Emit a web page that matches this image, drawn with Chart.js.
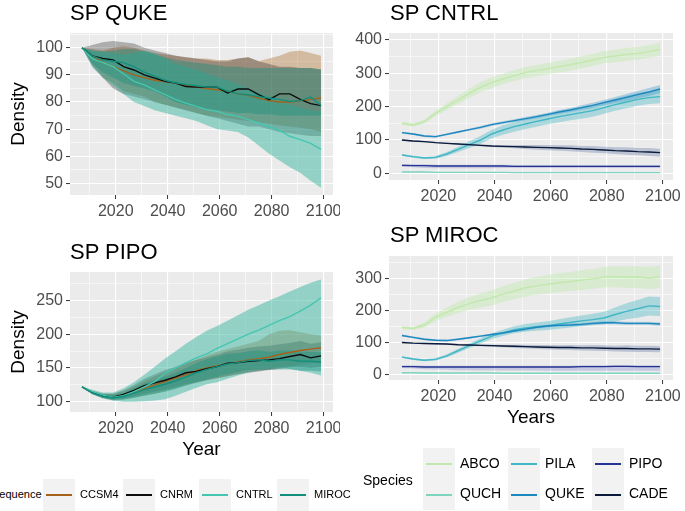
<!DOCTYPE html>
<html>
<head>
<meta charset="utf-8">
<script src="https://cdn.jsdelivr.net/npm/chart.js@4.4.1/dist/chart.umd.min.js"></script>
<style>
  body { margin: 0; background: #fff; }
  #wrap { position: relative; width: 685px; height: 511px; overflow: hidden; font-family: "Liberation Sans", Arial, sans-serif; }
  canvas { position: absolute; }
  .ttl { position: absolute; font-size: 22px; line-height: 26px; color: #000; white-space: nowrap; z-index: 2; }
  .lg { position: absolute; white-space: nowrap; color: #000; z-index: 2; }
  .key { position: absolute; background: #f2f2f2; z-index: 1; }
  .key i { position: absolute; left: 3px; right: 3px; top: 50%; height: 2px; margin-top: -1px; }
</style>
</head>
<body>
<div id="wrap">
  <canvas id="cQuke" width="340" height="225" style="left:0;top:0"></canvas>
  <canvas id="cCntrl" width="345" height="225" style="left:340px;top:0"></canvas>
  <canvas id="cPipo" width="340" height="240" style="left:0;top:225px"></canvas>
  <canvas id="cMiroc" width="345" height="210" style="left:340px;top:225px"></canvas>

  <div class="ttl" style="left:70px;top:0">SP QUKE</div>
  <div class="ttl" style="left:390px;top:0">SP CNTRL</div>
  <div class="ttl" style="left:70px;top:239px">SP PIPO</div>
  <div class="ttl" style="left:390px;top:222px">SP MIROC</div>
</div>

<script>
// ---------------- Data ----------------
const years = [2007, 2011, 2015, 2019, 2023, 2027, 2031, 2035, 2039, 2043, 2047, 2051,
               2055, 2059, 2063, 2067, 2071, 2075, 2079, 2083, 2087, 2091, 2095, 2099];

// SP QUKE panel (by climate sequence)
const qukeCcsm4   = [100, 97, 94.5, 93, 91.5, 90, 89, 88, 87.5, 87, 86, 85.5, 85, 84.5, 84, 83, 82.5, 81.5, 80.5, 80, 80, 80.5, 81, 81.5];
const qukeCcsm4Lo = [100, 94, 89, 87, 84, 83, 82, 80, 79, 78, 77, 76, 75, 74.5, 74, 73.5, 73, 72.5, 72, 71.5, 71, 70.5, 70, 69];
const qukeCcsm4Hi = [100, 99.5, 99, 100, 100.5, 100, 99, 98, 97.5, 97, 96.5, 96, 96, 95.5, 95.5, 96, 96.5, 95, 96, 97, 98.5, 99, 98, 97];
const qukeCnrm    = [100, 97, 96, 95.5, 93, 91.8, 90, 88.8, 87.6, 87, 85.7, 85.5, 85.5, 85.5, 83.3, 84.8, 84.8, 82.7, 80.9, 83, 83, 81, 79.4, 78.7];
const qukeCnrmLo  = [100, 93, 89, 85, 83, 82, 81, 80, 79, 78, 77, 76, 75, 74, 73, 72, 71, 71, 70, 69, 68.5, 68, 67.5, 67.5];
const qukeCnrmHi  = [100, 101, 102, 102.5, 102, 101.5, 100, 99, 98, 97, 96.5, 96, 95.5, 95, 95, 96, 96.5, 95, 94, 93, 93, 92.5, 92.5, 92];
const qukeCntrl   = [100, 96, 94.5, 93, 90.4, 87.6, 86.3, 84.5, 82.7, 81, 79.6, 78.4, 77.2, 76.6, 75.4, 74.8, 73.5, 72.3, 71, 69.6, 67.4, 66.2, 64.8, 62.6];
const qukeCntrlLo = [100, 93, 89, 86, 83, 80, 78.5, 77, 76, 75, 74, 73, 71.5, 70, 69.5, 69, 67, 64, 61, 58.5, 56, 54, 51, 48.5];
const qukeCntrlHi = [100, 99, 98.5, 98, 97.5, 98, 99, 98, 96, 94, 93, 92, 90.5, 89, 88, 86.5, 85, 83.5, 82, 80.5, 79, 78, 77, 76.5];
const qukeMiroc   = [100, 97, 95.5, 95, 94.5, 93, 91, 89.5, 88, 87, 86.5, 86, 85.5, 85.5, 84, 83, 82.7, 82, 81.5, 81, 80.2, 80.5, 81.8, 78.7];
const qukeMirocLo = [100, 94, 91, 89, 87, 86, 85, 84, 82, 80, 79, 78, 77.5, 77, 76.5, 76, 76, 75.5, 75.5, 75, 75, 75, 75, 75];
const qukeMirocHi = [100, 99, 98.5, 99, 99.5, 99.5, 98.5, 97.5, 96.5, 95.5, 95, 94.5, 94, 93.5, 93, 93, 92.5, 92.5, 92.5, 92.5, 92.5, 92.5, 92.5, 92];

// SP PIPO panel (by climate sequence)
const pipoCcsm4   = [122, 114, 109, 107, 110, 115, 120, 125, 130, 135, 140, 146, 150, 153, 156, 159, 162, 164, 166, 170, 173, 176, 178, 180];
const pipoCcsm4Lo = [122, 112, 106, 103, 104, 106, 109, 112, 116, 120, 124, 128, 132, 135, 138, 141, 144, 146, 148, 151, 153, 155, 157, 158];
const pipoCcsm4Hi = [122, 116, 112, 112, 116, 123, 131, 138, 144, 150, 156, 163, 169, 174, 178, 182, 186, 190, 200, 205, 206, 203, 200, 198];
const pipoCnrm    = [122, 114, 109, 107, 111, 117, 124, 128, 132, 137, 143, 145, 149, 152, 157, 158, 160, 161, 162, 164, 167, 170, 165, 168];
const pipoCnrmLo  = [122, 112, 106, 103, 105, 108, 112, 115, 118, 122, 126, 129, 132, 135, 138, 141, 143, 145, 147, 149, 151, 152, 150, 152];
const pipoCnrmHi  = [122, 116, 112, 112, 117, 125, 134, 141, 147, 152, 158, 162, 166, 170, 175, 177, 180, 182, 183, 185, 187, 190, 186, 188];
const pipoCntrl   = [122, 115, 110, 107, 109, 115, 122, 130, 142, 150, 158, 165, 171, 179, 186, 193, 200, 206, 213, 220, 226, 234, 243, 254];
const pipoCntrlLo = [122, 112, 106, 102, 100, 100, 101, 102, 104, 109, 115, 121, 126, 129, 134, 139, 143, 146, 149, 150, 149, 146, 143, 139];
const pipoCntrlHi = [122, 118, 114, 114, 120, 129, 140, 152, 164, 175, 186, 196, 205, 212, 220, 228, 236, 243, 250, 256, 263, 270, 276, 281];
const pipoMiroc   = [122, 113, 108, 106, 108, 113, 118, 122, 126, 131, 137, 143, 148, 152, 156, 158, 161, 162, 160, 162, 162, 160, 160, 159];
const pipoMirocLo = [122, 111, 105, 102, 103, 106, 109, 112, 115, 119, 124, 129, 133, 137, 141, 144, 147, 148, 147, 148, 148, 146, 146, 145];
const pipoMirocHi = [122, 115, 111, 110, 113, 120, 127, 132, 137, 143, 150, 157, 163, 167, 171, 172, 175, 176, 174, 176, 176, 174, 174, 173];

// SP CNTRL panel (by species)
const cntrlAbco   = [150, 145, 155, 180, 200, 220, 240, 258, 272, 283, 293, 302, 308, 314, 320, 326, 333, 340, 348, 352, 357, 360, 365, 372];
const cntrlAbcoLo = [145, 140, 149, 172, 190, 208, 226, 243, 256, 267, 277, 285, 291, 297, 303, 308, 315, 322, 330, 333, 338, 341, 346, 352];
const cntrlAbcoHi = [155, 150, 161, 188, 210, 232, 254, 273, 288, 299, 309, 319, 325, 331, 337, 344, 351, 358, 366, 371, 376, 379, 384, 392];
const cntrlQuch   = [4, 4, 4, 3, 3, 3, 3, 3, 3, 3, 2, 2, 2, 2, 2, 2, 2, 2, 2, 2, 2, 2, 2, 2];
const cntrlQuchLo = [3, 3, 3, 2, 2, 2, 2, 2, 2, 2, 1, 1, 1, 1, 1, 1, 1, 1, 1, 1, 1, 1, 1, 1];
const cntrlQuchHi = [5, 5, 5, 4, 4, 4, 4, 4, 4, 4, 3, 3, 3, 3, 3, 3, 3, 3, 3, 3, 3, 3, 3, 3];
const cntrlPila   = [55, 50, 46, 48, 58, 72, 86, 100, 118, 130, 140, 148, 156, 163, 170, 176, 182, 188, 197, 206, 214, 222, 227, 230];
const cntrlPilaLo = [52, 47, 43, 44, 52, 64, 76, 88, 105, 116, 125, 133, 140, 147, 153, 159, 164, 170, 179, 188, 195, 203, 208, 210];
const cntrlPilaHi = [58, 53, 49, 52, 64, 80, 96, 112, 131, 144, 155, 163, 172, 179, 187, 193, 200, 206, 215, 224, 233, 241, 246, 250];
const cntrlQuke   = [122, 118, 112, 110, 117, 124, 131, 138, 146, 152, 158, 164, 170, 177, 184, 190, 197, 204, 212, 220, 228, 236, 244, 253];
const cntrlQukeLo = [119, 115, 109, 107, 114, 121, 128, 134, 142, 148, 154, 159, 165, 172, 178, 184, 190, 196, 204, 211, 218, 225, 232, 241];
const cntrlQukeHi = [125, 121, 115, 113, 120, 127, 134, 142, 150, 156, 162, 169, 175, 182, 190, 196, 204, 212, 220, 229, 238, 247, 256, 265];
const cntrlPipo   = [24, 23, 23, 22, 22, 22, 22, 22, 22, 22, 21, 21, 21, 21, 21, 21, 21, 21, 21, 21, 21, 21, 21, 21];
const cntrlPipoLo = [20, 18, 16, 15, 15, 15, 15, 15, 15, 16, 16, 16, 16, 16, 16, 16, 16, 16, 16, 16, 16, 16, 16, 16];
const cntrlPipoHi = [28, 27, 27, 26, 26, 26, 26, 26, 26, 26, 25, 25, 25, 25, 25, 25, 25, 25, 25, 25, 25, 25, 25, 25];
const cntrlCade   = [100, 97, 95, 92, 90, 88, 86, 84, 82, 81, 80, 79, 78, 77, 76, 75, 73, 72, 70, 68, 67, 65, 64, 62];
const cntrlCadeLo = [98, 95, 93, 90, 88, 86, 83, 81, 79, 77, 75, 73, 71, 69, 68, 66, 64, 62, 60, 58, 56, 54, 52, 50];
const cntrlCadeHi = [102, 99, 97, 94, 92, 90, 89, 87, 85, 85, 85, 85, 85, 85, 84, 84, 82, 82, 80, 78, 78, 76, 76, 74];

// SP MIROC panel (by species)
const mirocAbco   = [147, 144, 155, 180, 195, 210, 222, 232, 240, 252, 262, 272, 278, 283, 288, 292, 296, 300, 306, 307, 305, 306, 303, 306];
const mirocAbcoLo = [142, 139, 147, 168, 180, 192, 202, 210, 216, 227, 236, 245, 250, 254, 258, 262, 265, 269, 274, 274, 271, 272, 268, 271];
const mirocAbcoHi = [152, 149, 163, 192, 210, 228, 242, 254, 264, 277, 288, 299, 306, 312, 318, 322, 327, 331, 338, 340, 339, 340, 338, 341];
const mirocQuch   = [5, 5, 4, 4, 4, 4, 4, 4, 4, 3, 3, 3, 3, 3, 3, 3, 3, 3, 3, 3, 3, 3, 3, 3];
const mirocQuchLo = [4, 4, 3, 3, 3, 3, 3, 3, 3, 2, 2, 2, 2, 2, 2, 2, 2, 2, 2, 2, 2, 2, 2, 2];
const mirocQuchHi = [6, 6, 5, 5, 5, 5, 5, 5, 5, 4, 4, 4, 4, 4, 4, 4, 4, 4, 4, 4, 4, 4, 4, 4];
const mirocPila   = [54, 48, 44, 47, 58, 74, 90, 105, 120, 130, 140, 146, 150, 153, 158, 163, 168, 172, 177, 188, 198, 206, 215, 213];
const mirocPilaLo = [51, 45, 41, 43, 53, 68, 83, 97, 111, 120, 129, 134, 137, 139, 143, 147, 151, 154, 157, 166, 173, 178, 185, 183];
const mirocPilaHi = [57, 51, 47, 51, 63, 80, 97, 113, 129, 140, 151, 158, 163, 167, 173, 179, 185, 190, 197, 210, 223, 234, 245, 243];
const mirocQuke   = [122, 116, 110, 107, 106, 110, 115, 120, 125, 130, 136, 142, 148, 152, 154, 155, 157, 160, 162, 162, 160, 160, 160, 158];
const mirocQukeLo = [119, 113, 107, 104, 103, 107, 112, 117, 122, 127, 133, 138, 144, 148, 150, 151, 153, 156, 157, 157, 155, 155, 155, 153];
const mirocQukeHi = [125, 119, 113, 110, 109, 113, 118, 123, 128, 133, 139, 146, 152, 156, 158, 159, 161, 164, 167, 167, 165, 165, 165, 163];
const mirocPipo   = [24, 24, 23, 23, 23, 23, 23, 23, 23, 23, 23, 23, 23, 23, 23, 23, 24, 24, 24, 25, 25, 24, 24, 24];
const mirocPipoLo = [20, 18, 16, 15, 14, 13, 13, 12, 12, 12, 12, 12, 12, 11, 11, 11, 11, 11, 11, 11, 11, 11, 11, 11];
const mirocPipoHi = [28, 28, 27, 27, 27, 27, 27, 27, 27, 27, 27, 27, 27, 27, 27, 27, 28, 28, 28, 29, 29, 28, 28, 28];
const mirocCade   = [100, 98, 97, 96, 95, 93, 92, 91, 90, 89, 88, 87, 86, 85, 84, 84, 83, 83, 82, 81, 81, 80, 80, 79];
const mirocCadeLo = [98, 96, 95, 94, 93, 91, 89, 88, 86, 85, 83, 81, 80, 78, 77, 76, 75, 74, 73, 72, 71, 70, 70, 69];
const mirocCadeHi = [102, 100, 99, 98, 97, 95, 95, 94, 94, 93, 93, 93, 92, 92, 91, 92, 91, 92, 91, 90, 91, 90, 90, 89];

// tick values
const xMajor = [2020, 2040, 2060, 2080, 2100];
const xMinor = [2010, 2030, 2050, 2070, 2090];
const qukeYMajor = [50, 60, 70, 80, 90, 100];
const qukeYMinor = [55, 65, 75, 85, 95, 105];
const pipoYMajor = [100, 150, 200, 250];
const pipoYMinor = [125, 175, 225, 275];
const cntrlYMajor = [0, 100, 200, 300, 400];
const cntrlYMinor = [50, 150, 250, 350];
const mirocYMajor = [0, 100, 200, 300];
const mirocYMinor = [50, 150, 250, 350];

const sequences = ["CCSM4", "CNRM", "CNTRL", "MIROC"];
const species = ["ABCO", "QUCH", "PILA", "QUKE", "PIPO", "CADE"];

// ---------------- Styling ----------------
const FONT = '"Liberation Sans", Arial, sans-serif';
const seqColors = { CCSM4: "#a6611a", CNRM: "#0d0d0d", CNTRL: "#45c6b0", MIROC: "#138f7d" };
const seqFills  = { CCSM4: "rgba(166,97,26,0.35)", CNRM: "rgba(30,30,30,0.3)", CNTRL: "rgba(50,180,158,0.48)", MIROC: "rgba(19,143,125,0.4)" };
const spColors  = { ABCO: "#c2e8ad", QUCH: "#7fd4c0", PILA: "#41b6c4", QUKE: "#1d87c0", PIPO: "#253494", CADE: "#0a1a38" };
const spFills   = { ABCO: "rgba(194,232,173,0.45)", QUCH: "rgba(127,212,192,0.35)", PILA: "rgba(65,182,196,0.38)",
                    QUKE: "rgba(29,135,192,0.3)", PIPO: "rgba(110,120,200,0.3)", CADE: "rgba(60,90,150,0.28)" };

const pts = arr => years.map((x, i) => ({ x: x, y: arr[i] }));

// grey panel background like ggplot
const panelBg = {
  id: "panelBg",
  beforeDraw(chart) {
    const a = chart.chartArea, c = chart.ctx;
    c.save();
    c.fillStyle = "#ebebeb";
    c.fillRect(a.left, a.top, a.right - a.left, a.bottom - a.top);
    c.restore();
  }
};

function makeScale(major, minor, min, max, size, extra) {
  const all = major.concat(minor).sort((a, b) => a - b);
  const isMajor = c => c.tick && major.includes(c.tick.value);
  return Object.assign({
    type: "linear", min: min, max: max,
    afterBuildTicks: s => { s.ticks = all.map(v => ({ value: v })); },
    afterFit: s => {
      if (s.isHorizontal()) { s.height = size; s.paddingLeft = 0; s.paddingRight = 0; }
      else { s.width = size; s.paddingTop = 0; s.paddingBottom = 0; }
    },
    border: { display: false },
    grid: {
      color: "#ffffff",
      lineWidth: c => isMajor(c) ? 1.1 : 0.55,
      drawTicks: true, tickLength: 4, tickWidth: 1,
      tickColor: c => isMajor(c) ? "#333333" : "rgba(0,0,0,0)"
    },
    ticks: {
      autoSkip: false, maxRotation: 0, minRotation: 0, padding: 3, color: "#4d4d4d",
      font: { size: 16, family: FONT },
      callback: v => major.includes(v) ? String(v) : ""
    }
  }, extra || {});
}

function buildDatasets(list) {
  const lines = list.slice().reverse().map(s => ({
    label: s.name, data: pts(s.mean), borderColor: s.color, borderWidth: 1.4,
    fill: false, pointRadius: 0, tension: 0
  }));
  const bands = [];
  list.slice().reverse().forEach(s => {
    bands.push({ label: s.name + " hi", data: pts(s.hi), borderWidth: 0, borderColor: "rgba(0,0,0,0)",
                 backgroundColor: s.fill, fill: "+1", pointRadius: 0 });
    bands.push({ label: s.name + " lo", data: pts(s.lo), borderWidth: 0, borderColor: "rgba(0,0,0,0)",
                 fill: false, pointRadius: 0 });
  });
  return lines.concat(bands);
}

function makePanel(id, list, pad, xScale, yScale) {
  new Chart(document.getElementById(id), {
    type: "line",
    data: { datasets: buildDatasets(list) },
    options: {
      responsive: false, animation: false, maintainAspectRatio: false,
      layout: { padding: pad },
      plugins: { legend: { display: false }, tooltip: { enabled: false } },
      scales: { x: xScale, y: yScale }
    },
    plugins: [panelBg]
  });
}

const yTitle = { display: true, text: "Density", color: "#000", font: { size: 19, family: FONT }, padding: { top: 7, bottom: 0 } };

// ---------------- Panels ----------------
makePanel("cQuke", [
  { name: "CCSM4", mean: qukeCcsm4, lo: qukeCcsm4Lo, hi: qukeCcsm4Hi, color: seqColors.CCSM4, fill: seqFills.CCSM4 },
  { name: "CNRM",  mean: qukeCnrm,  lo: qukeCnrmLo,  hi: qukeCnrmHi,  color: seqColors.CNRM,  fill: seqFills.CNRM },
  { name: "CNTRL", mean: qukeCntrl, lo: qukeCntrlLo, hi: qukeCntrlHi, color: seqColors.CNTRL, fill: seqFills.CNTRL },
  { name: "MIROC", mean: qukeMiroc, lo: qukeMirocLo, hi: qukeMirocHi, color: seqColors.MIROC, fill: seqFills.MIROC }
], { top: 33, right: 7, left: 0, bottom: 0 },
  makeScale(xMajor, xMinor, 2002.4, 2103.6, 30),
  makeScale(qukeYMajor, qukeYMinor, 45.8, 105.4, 70, { title: yTitle }));

makePanel("cPipo", [
  { name: "CCSM4", mean: pipoCcsm4, lo: pipoCcsm4Lo, hi: pipoCcsm4Hi, color: seqColors.CCSM4, fill: seqFills.CCSM4 },
  { name: "CNRM",  mean: pipoCnrm,  lo: pipoCnrmLo,  hi: pipoCnrmHi,  color: seqColors.CNRM,  fill: seqFills.CNRM },
  { name: "CNTRL", mean: pipoCntrl, lo: pipoCntrlLo, hi: pipoCntrlHi, color: seqColors.CNTRL, fill: seqFills.CNTRL },
  { name: "MIROC", mean: pipoMiroc, lo: pipoMirocLo, hi: pipoMirocHi, color: seqColors.MIROC, fill: seqFills.MIROC }
], { top: 47, right: 7, left: 0, bottom: 0 },
  makeScale(xMajor, xMinor, 2002.4, 2103.6, 53,
    { title: { display: true, text: "Year", color: "#000", font: { size: 19, family: FONT }, padding: { top: 0, bottom: 4 } } }),
  makeScale(pipoYMajor, pipoYMinor, 85, 292, 70, { title: yTitle }));

makePanel("cCntrl", [
  { name: "ABCO", mean: cntrlAbco, lo: cntrlAbcoLo, hi: cntrlAbcoHi, color: spColors.ABCO, fill: spFills.ABCO },
  { name: "QUCH", mean: cntrlQuch, lo: cntrlQuchLo, hi: cntrlQuchHi, color: spColors.QUCH, fill: spFills.QUCH },
  { name: "PILA", mean: cntrlPila, lo: cntrlPilaLo, hi: cntrlPilaHi, color: spColors.PILA, fill: spFills.PILA },
  { name: "QUKE", mean: cntrlQuke, lo: cntrlQukeLo, hi: cntrlQukeHi, color: spColors.QUKE, fill: spFills.QUKE },
  { name: "PIPO", mean: cntrlPipo, lo: cntrlPipoLo, hi: cntrlPipoHi, color: spColors.PIPO, fill: spFills.PIPO },
  { name: "CADE", mean: cntrlCade, lo: cntrlCadeLo, hi: cntrlCadeHi, color: spColors.CADE, fill: spFills.CADE }
], { top: 33, right: 12, left: 0, bottom: 0 },
  makeScale(xMajor, xMinor, 2002.4, 2103.6, 45),
  makeScale(cntrlYMajor, cntrlYMinor, -20, 421, 49));

makePanel("cMiroc", [
  { name: "ABCO", mean: mirocAbco, lo: mirocAbcoLo, hi: mirocAbcoHi, color: spColors.ABCO, fill: spFills.ABCO },
  { name: "QUCH", mean: mirocQuch, lo: mirocQuchLo, hi: mirocQuchHi, color: spColors.QUCH, fill: spFills.QUCH },
  { name: "PILA", mean: mirocPila, lo: mirocPilaLo, hi: mirocPilaHi, color: spColors.PILA, fill: spFills.PILA },
  { name: "QUKE", mean: mirocQuke, lo: mirocQukeLo, hi: mirocQukeHi, color: spColors.QUKE, fill: spFills.QUKE },
  { name: "PIPO", mean: mirocPipo, lo: mirocPipoLo, hi: mirocPipoHi, color: spColors.PIPO, fill: spFills.PIPO },
  { name: "CADE", mean: mirocCade, lo: mirocCadeLo, hi: mirocCadeHi, color: spColors.CADE, fill: spFills.CADE }
], { top: 31, right: 12, left: 0, bottom: 0 },
  makeScale(xMajor, xMinor, 2002.4, 2103.6, 55,
    { title: { display: true, text: "Years", color: "#000", font: { size: 19, family: FONT }, padding: { top: 0, bottom: 6 } } }),
  makeScale(mirocYMajor, mirocYMinor, -18, 372, 49));

// ---------------- Legends (HTML) ----------------
function addText(parent, text, left, centerY, size) {
  const d = document.createElement("div");
  d.className = "lg";
  d.style.left = left + "px";
  d.style.top = (centerY - size * 0.6) + "px";
  d.style.fontSize = size + "px";
  d.style.lineHeight = (size * 1.2) + "px";
  d.textContent = text;
  parent.appendChild(d);
}
function addKey(parent, color, left, top, w, h) {
  const k = document.createElement("div");
  k.className = "key";
  k.style.left = left + "px"; k.style.top = top + "px";
  k.style.width = w + "px"; k.style.height = h + "px";
  const l = document.createElement("i");
  l.style.background = color;
  k.appendChild(l);
  parent.appendChild(k);
}

const wrap = document.getElementById("wrap");
addText(wrap, "Sequence", -8, 495, 11);
const seqKeyX = [43, 123, 199, 277];
sequences.forEach((s, i) => {
  addKey(wrap, seqColors[s], seqKeyX[i], 479, 32, 32);
  addText(wrap, s, seqKeyX[i] + 37, 495, 11);
});

addText(wrap, "Species", 363, 480, 14);
const spKeyX = [423, 508, 592];
species.forEach((s, i) => {
  const col = Math.floor(i / 2), row = i % 2;
  addKey(wrap, spColors[s], spKeyX[col], 448 + row * 31, 32, 31);
  addText(wrap, s, spKeyX[col] + 37, 463 + row * 30, 14);
});
</script>
</body>
</html>
